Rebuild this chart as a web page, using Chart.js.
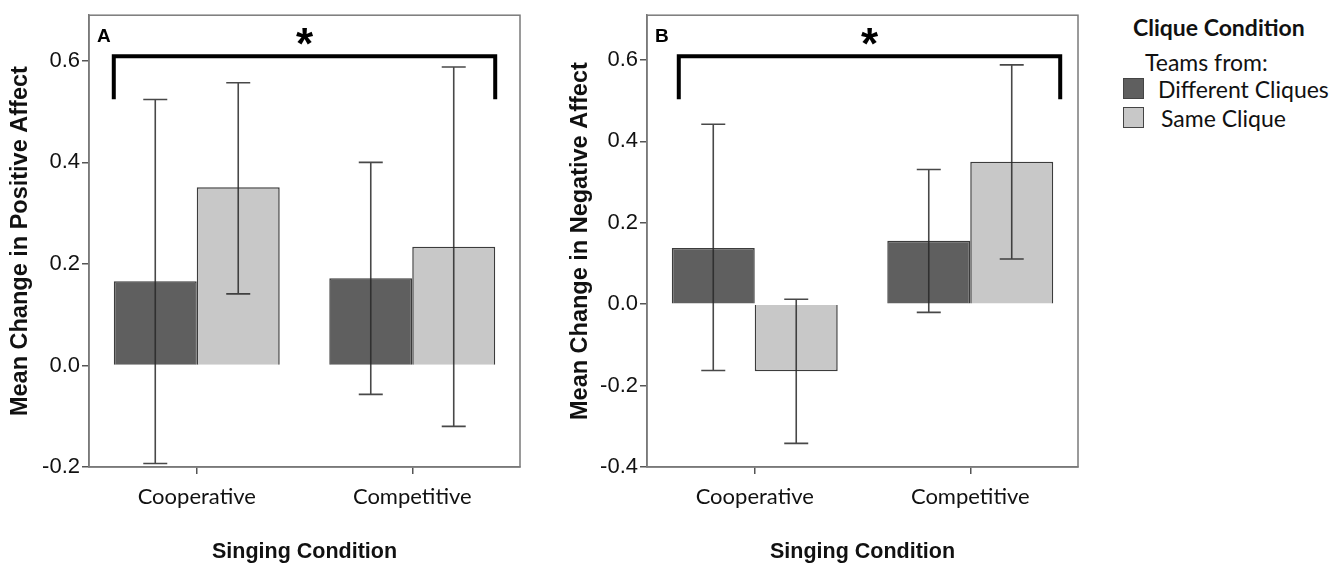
<!DOCTYPE html>
<html>
<head>
<meta charset="utf-8">
<script src="https://cdn.jsdelivr.net/npm/chart.js@4.4.1/dist/chart.umd.min.js"></script>
<style>
  body { margin: 0; background: #fff; width: 1336px; height: 565px; overflow: hidden; position: relative; }
  canvas { position: absolute; top: 0; }
  #chartA { left: 0; }
  #chartB { left: 560px; }
  #legend { position: absolute; left: 1123px; top: 0; font-family: Lato, sans-serif; color: #111; font-size: 23px; line-height: 28px; }
  #legend .title { position: absolute; left: 10px; top: 13px; font-weight: bold; white-space: nowrap; }
  #legend .sub { position: absolute; left: 22px; top: 48px; white-space: nowrap; }
  #legend .row { position: absolute; left: 0; white-space: nowrap; }
  #legend .sw { position: absolute; left: 0; top: 0; width: 19px; height: 19px; border: 1.5px solid #444; }
  #legend .lab { position: absolute; top: -3px; }
</style>
</head>
<body>
<canvas id="chartA" width="530" height="565"></canvas>
<canvas id="chartB" width="530" height="565"></canvas>
<div id="legend"></div>
<script>
const categories = ['Cooperative', 'Competitive'];
const seriesNames = ['Different Cliques', 'Same Clique'];
const seriesColors = ['#5f5f5f', '#c8c8c8'];

// panel A: positive affect
const posDifferent = [0.166, 0.172];
const posSame = [0.351, 0.234];
const posDifferentLow = [-0.193, -0.057];
const posDifferentHigh = [0.524, 0.400];
const posSameLow = [0.141, -0.120];
const posSameHigh = [0.557, 0.588];
const posTicks = [-0.2, 0.0, 0.2, 0.4, 0.6];

// panel B: negative affect
const negDifferent = [0.138, 0.156];
const negSame = [-0.165, 0.350];
const negDifferentLow = [-0.163, -0.020];
const negDifferentHigh = [0.442, 0.331];
const negSameLow = [-0.342, 0.111];
const negSameHigh = [0.012, 0.588];
const negTicks = [-0.4, -0.2, 0.0, 0.2, 0.4, 0.6];

// box around the plot area
const boxPlugin = {
    id: 'box',
    afterDraw(chart) {
        const a = chart.chartArea, ctx = chart.ctx;
        ctx.save();
        ctx.strokeStyle = '#7a7a7a';
        ctx.lineWidth = 1.5;
        ctx.strokeRect(a.left, a.top, a.right - a.left, a.bottom - a.top);
        ctx.restore();
    }
};

// error bars from dataset errLow / errHigh
const errorBarPlugin = {
    id: 'errorBars',
    afterDatasetsDraw(chart) {
        const ctx = chart.ctx, y = chart.scales.y;
        ctx.save();
        ctx.strokeStyle = 'rgba(40,40,40,0.85)';
        ctx.lineWidth = 1.6;
        chart.data.datasets.forEach((ds, i) => {
            chart.getDatasetMeta(i).data.forEach((bar, j) => {
                const top = y.getPixelForValue(ds.errHigh[j]);
                const bot = y.getPixelForValue(ds.errLow[j]);
                ctx.beginPath();
                ctx.moveTo(bar.x, top); ctx.lineTo(bar.x, bot);
                ctx.moveTo(bar.x - 12, top); ctx.lineTo(bar.x + 12, top);
                ctx.moveTo(bar.x - 12, bot); ctx.lineTo(bar.x + 12, bot);
                ctx.stroke();
            });
        });
        ctx.restore();
    }
};

// significance bracket, asterisk and panel letter
const bracketPlugin = {
    id: 'bracket',
    afterDraw(chart, args, opts) {
        const ctx = chart.ctx, a = chart.chartArea;
        const first = chart.getDatasetMeta(0).data[0];
        const last = chart.getDatasetMeta(1).data[1];
        const x1 = first.x - first.width / 2 + opts.shift;
        const x2 = last.x + last.width / 2 + opts.shift;
        const yTop = a.top + 41, yBot = a.top + 84;
        ctx.save();
        ctx.strokeStyle = '#000';
        ctx.lineWidth = 4;
        ctx.lineJoin = 'miter';
        ctx.beginPath();
        ctx.moveTo(x1, yBot); ctx.lineTo(x1, yTop); ctx.lineTo(x2, yTop); ctx.lineTo(x2, yBot);
        ctx.stroke();
        ctx.fillStyle = '#000';
        ctx.font = 'bold 44px "Liberation Sans", Arial, sans-serif';
        ctx.textAlign = 'center';
        ctx.textBaseline = 'alphabetic';
        ctx.fillText('*', (x1 + x2) / 2, yTop + 3);
        ctx.font = 'bold 19px "Liberation Sans", Arial, sans-serif';
        ctx.textAlign = 'left';
        ctx.fillText(opts.letter, a.left + 8, a.top + 27);
        ctx.restore();
    }
};

function makeChart(id, letter, diff, same, diffLow, diffHigh, sameLow, sameHigh, ticks, yMax, yTitle, axisWidth, padRight, shift) {
    return new Chart(document.getElementById(id), {
        type: 'bar',
        data: {
            labels: categories,
            datasets: [
                { label: seriesNames[0], data: diff, errLow: diffLow, errHigh: diffHigh,
                  backgroundColor: seriesColors[0], borderColor: '#3c3c3c', borderWidth: 1.5 },
                { label: seriesNames[1], data: same, errLow: sameLow, errHigh: sameHigh,
                  backgroundColor: seriesColors[1], borderColor: '#3c3c3c', borderWidth: 1.5 }
            ]
        },
        options: {
            responsive: false,
            animation: false,
            devicePixelRatio: 1,
            layout: { padding: { top: 11, right: padRight, left: 0, bottom: 0 } },
            datasets: { bar: { categoryPercentage: 0.77, barPercentage: 1.0 } },
            plugins: {
                legend: { display: false },
                tooltip: { enabled: false },
                bracket: { letter: letter, shift: shift }
            },
            scales: {
                x: {
                    grid: { display: true, drawOnChartArea: false, offset: false, tickLength: 7, color: '#555', lineWidth: 1.5 },
                    border: { display: true, color: '#7a7a7a', width: 1.5 },
                    ticks: { color: '#111', padding: 10, font: { family: 'Lato', size: 22 } },
                    title: { display: true, text: 'Singing Condition', color: '#111', padding: { top: 0, bottom: 0 },
                             font: { family: 'Liberation Sans', size: 21.5, weight: 'bold' } },
                    afterFit(scale) { scale.height = 98; }
                },
                y: {
                    min: ticks[0],
                    max: yMax,
                    grid: { display: true, drawOnChartArea: false, tickLength: 7, color: '#555', lineWidth: 1.5 },
                    border: { display: true, color: '#7a7a7a', width: 1.5 },
                    ticks: {
                        stepSize: 0.2,
                        includeBounds: false,
                        padding: 2,
                        color: '#111',
                        font: { family: 'Liberation Sans', size: 22 },
                        callback: (v) => ticks.some(t => Math.abs(t - v) < 1e-6) ? v.toFixed(1) : ''
                    },
                    title: { display: true, text: yTitle, color: '#111', padding: { top: 6, bottom: 0 },
                             font: { family: 'Liberation Sans', size: 23.5, weight: 'bold' } },
                    afterFit(scale) { scale.width = axisWidth; }
                }
            }
        },
        plugins: [boxPlugin, errorBarPlugin, bracketPlugin]
    });
}

makeChart('chartA', 'A', posDifferent, posSame, posDifferentLow, posDifferentHigh, posSameLow, posSameHigh,
    posTicks, 0.69, 'Mean Change in Positive Affect', 89, 10, 0);
makeChart('chartB', 'B', negDifferent, negSame, negDifferentLow, negDifferentHigh, negSameLow, negSameHigh,
    negTicks, 0.71, 'Mean Change in Negative Affect', 87, 12, 7);

// legend
const legend = document.getElementById('legend');
legend.innerHTML = '<div class="title">Clique Condition</div><div class="sub">Teams from:</div>';
const rowTops = [78, 107];
seriesNames.forEach((name, i) => {
    const row = document.createElement('div');
    row.className = 'row';
    row.style.top = rowTops[i] + 'px';
    row.innerHTML = '<div class="sw" style="background:' + seriesColors[i] + '"></div>' +
        '<div class="lab" style="left:' + (35 + i * 3) + 'px">' + name + '</div>';
    legend.appendChild(row);
});
</script>
</body>
</html>
